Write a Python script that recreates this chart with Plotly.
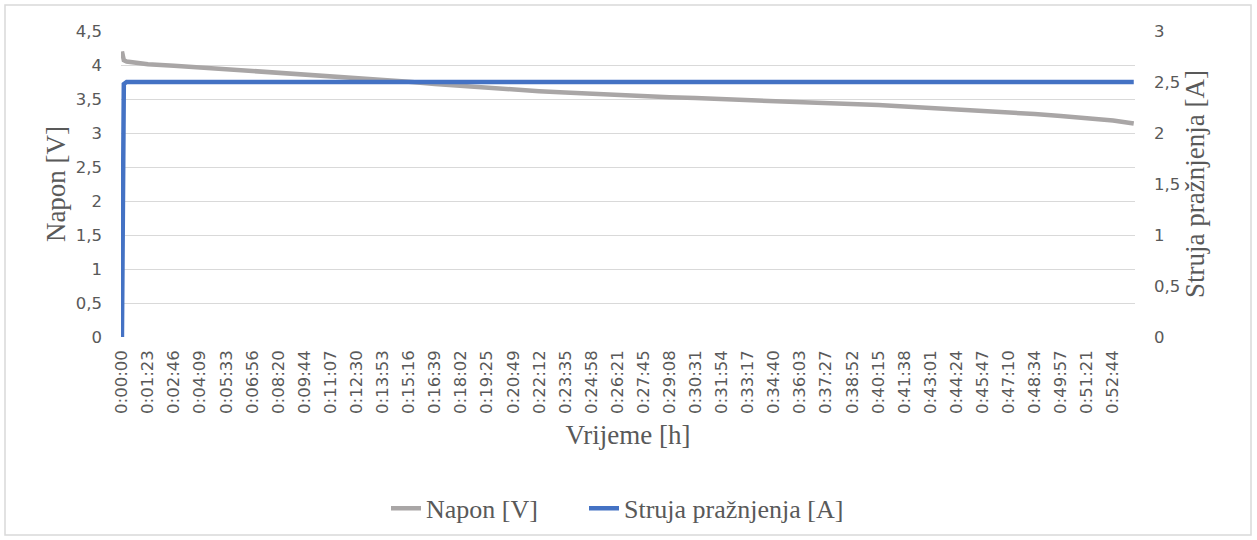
import plotly.graph_objects as go

# Time stamps (h:mm:ss) of the read points
times = ["0:00:00", "0:00:03", "0:00:06", "0:00:15",
         "0:01:23", "0:02:46", "0:04:09", "0:05:33", "0:06:56", "0:08:20", "0:09:44",
         "0:11:07", "0:12:30", "0:13:53", "0:15:16", "0:16:39", "0:18:02", "0:19:25",
         "0:20:49", "0:22:12", "0:23:35", "0:24:58", "0:26:21", "0:27:45", "0:29:08",
         "0:30:31", "0:31:54", "0:33:17", "0:34:40", "0:36:03", "0:37:27", "0:38:52",
         "0:40:15", "0:41:38", "0:43:01", "0:44:24", "0:45:47", "0:47:10", "0:48:34",
         "0:49:57", "0:51:21", "0:52:44", "0:53:50"]

# Napon [V]
voltage = [4.20, 4.10, 4.07, 4.05,
           4.01, 3.99, 3.965, 3.94, 3.91, 3.885, 3.86,
           3.835, 3.81, 3.785, 3.755, 3.72, 3.69, 3.665,
           3.64, 3.615, 3.595, 3.575, 3.558, 3.542, 3.527,
           3.513, 3.50, 3.488, 3.475, 3.46, 3.445, 3.428,
           3.41, 3.39, 3.37, 3.35, 3.33, 3.305, 3.28,
           3.25, 3.22, 3.185, 3.14]

# Struja pražnjenja [A]
current = [0.0, 2.30, 2.48, 2.50,
           2.50, 2.50, 2.50, 2.50, 2.50, 2.50, 2.50,
           2.50, 2.50, 2.50, 2.50, 2.50, 2.50, 2.50,
           2.50, 2.50, 2.50, 2.50, 2.50, 2.50, 2.50,
           2.50, 2.50, 2.50, 2.50, 2.50, 2.50, 2.50,
           2.50, 2.50, 2.50, 2.50, 2.50, 2.50, 2.50,
           2.50, 2.50, 2.50, 2.50]

# Category labels shown on the time axis
tick_labels = ["0:00:00", "0:01:23", "0:02:46", "0:04:09", "0:05:33", "0:06:56", "0:08:20",
               "0:09:44", "0:11:07", "0:12:30", "0:13:53", "0:15:16", "0:16:39", "0:18:02",
               "0:19:25", "0:20:49", "0:22:12", "0:23:35", "0:24:58", "0:26:21", "0:27:45",
               "0:29:08", "0:30:31", "0:31:54", "0:33:17", "0:34:40", "0:36:03", "0:37:27",
               "0:38:52", "0:40:15", "0:41:38", "0:43:01", "0:44:24", "0:45:47", "0:47:10",
               "0:48:34", "0:49:57", "0:51:21", "0:52:44"]


def to_sec(s):
    h, m, sec = s.split(":")
    return int(h) * 3600 + int(m) * 60 + int(sec)


x = [to_sec(t) for t in times]
tickvals = [to_sec(t) for t in tick_labels]

GRAY = "#A9A6A6"
BLUE = "#4472C4"
TXT = "#595959"
GRID = "#D9D9D9"
tick_font = dict(family="DejaVu Sans", size=16.5, color=TXT)
title_font = dict(family="Liberation Serif", size=27, color=TXT)
legend_font = dict(family="Liberation Serif", size=26, color=TXT)

PW = 1014.0  # plot width (px)
PH = 306.0   # plot height (px)

fig = go.Figure()
fig.add_trace(go.Scatter(x=x, y=voltage, name="Napon [V]", mode="lines",
                         line=dict(color=GRAY, width=4.5), yaxis="y", legend="legend"))
fig.add_trace(go.Scatter(x=x, y=current, name="Struja pražnjenja [A]", mode="lines",
                         line=dict(color=BLUE, width=4.5), yaxis="y2", legend="legend2"))

leg_common = dict(orientation="h", y=-0.56, yanchor="middle", xanchor="left",
                  font=legend_font, bgcolor="rgba(0,0,0,0)")

fig.update_layout(
    width=1257, height=540,
    margin=dict(l=121, r=122, t=31, b=203, autoexpand=False),
    paper_bgcolor="white", plot_bgcolor="white",
    separators=", ",
    showlegend=True,
    legend=dict(x=(386 - 121) / PW, **leg_common),
    legend2=dict(x=(584 - 121) / PW, **leg_common),
    xaxis=dict(range=[-3, 3234], tickmode="array", tickvals=tickvals, ticktext=tick_labels,
               tickangle=-90, tickfont=tick_font, showgrid=False, zeroline=False,
               showline=False, ticks="", ticklabelstandoff=9, automargin=False,
               title=dict(text="Vrijeme [h]", font=title_font, standoff=12)),
    yaxis=dict(range=[0, 4.5], dtick=0.5, tick0=0, tickfont=tick_font, showgrid=True,
               gridcolor=GRID, gridwidth=1.3, zeroline=False, showline=False, ticks="",
               ticklabelstandoff=18, automargin=False,
               title=dict(text="Napon [V]", font=title_font, standoff=2)),
    yaxis2=dict(range=[0, 3], dtick=0.5, tick0=0, overlaying="y", side="right",
                tickfont=tick_font, showgrid=False, zeroline=False, showline=False,
                ticks="", ticklabelstandoff=18, automargin=False,
                title=dict(text="Struja pražnjenja [A]", font=title_font, standoff=2)),
    shapes=[dict(type="rect", xref="paper", yref="paper",
                 x0=-116 / PW, x1=1 + 116 / PW, y0=-198 / PH, y1=1 + 26 / PH,
                 line=dict(color=GRID, width=1.5), fillcolor="rgba(0,0,0,0)", layer="below")],
)

fig.write_html("out.html", config={"displayModeBar": False},
               post_script="document.body.style.margin='0';document.body.style.overflow='hidden';")
